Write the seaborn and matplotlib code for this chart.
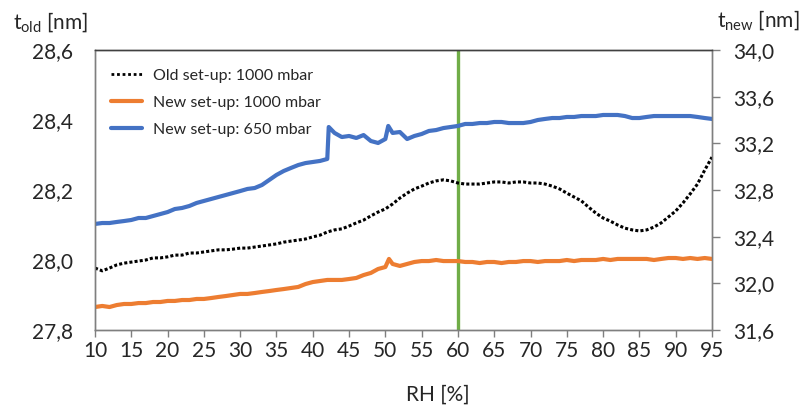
import matplotlib
matplotlib.use("Agg")
import matplotlib.pyplot as plt
import seaborn as sns
import numpy as np
from matplotlib.lines import Line2D

# ---------------- data ----------------
rh_old = list(range(10, 96))
t_old = [27.977, 27.969, 27.977, 27.986, 27.991, 27.994, 27.997, 28.000, 28.006, 28.006,
         28.009, 28.014, 28.014, 28.020, 28.020, 28.023, 28.026, 28.029, 28.029, 28.031,
         28.034, 28.034, 28.037, 28.040, 28.043, 28.046, 28.051, 28.054, 28.057, 28.060,
         28.066, 28.071, 28.080, 28.086, 28.089, 28.097, 28.106, 28.114, 28.126, 28.137,
         28.146, 28.160, 28.177, 28.191, 28.203, 28.211, 28.220, 28.226, 28.229, 28.226,
         28.220, 28.217, 28.217, 28.217, 28.220, 28.223, 28.223, 28.220, 28.223, 28.223,
         28.220, 28.220, 28.217, 28.211, 28.203, 28.191, 28.180, 28.169, 28.151, 28.134,
         28.120, 28.111, 28.100, 28.091, 28.086, 28.083, 28.086, 28.094, 28.106, 28.123,
         28.140, 28.163, 28.189, 28.217, 28.257, 28.294]

rh_1000 = [10, 11, 12, 13, 14, 15, 16, 17, 18, 19, 20, 21, 22, 23, 24, 25, 26, 27, 28, 29,
           30, 31, 32, 33, 34, 35, 36, 37, 38, 39, 40, 41, 42, 43, 44, 45, 46, 47, 48, 49,
           50, 50.5, 51, 52, 53, 54, 55, 56, 57, 58, 59, 60, 61, 62, 63, 64, 65, 66, 67, 68,
           69, 70, 71, 72, 73, 74, 75, 76, 77, 78, 79, 80, 81, 82, 83, 84, 85, 86, 87, 88,
           89, 90, 91, 92, 93, 94, 95]
t_new_1000 = [31.797, 31.806, 31.797, 31.814, 31.823, 31.823, 31.831, 31.831, 31.840, 31.840,
              31.849, 31.849, 31.857, 31.857, 31.866, 31.866, 31.874, 31.883, 31.891, 31.900,
              31.909, 31.909, 31.917, 31.926, 31.934, 31.943, 31.951, 31.960, 31.969, 31.994,
              32.011, 32.020, 32.029, 32.029, 32.029, 32.037, 32.046, 32.071, 32.089, 32.123,
              32.140, 32.209, 32.166, 32.149, 32.166, 32.183, 32.191, 32.191, 32.200, 32.191,
              32.191, 32.191, 32.183, 32.183, 32.174, 32.183, 32.183, 32.174, 32.183, 32.183,
              32.191, 32.191, 32.183, 32.191, 32.191, 32.191, 32.200, 32.191, 32.200, 32.200,
              32.200, 32.209, 32.200, 32.209, 32.209, 32.209, 32.209, 32.209, 32.200, 32.209,
              32.217, 32.217, 32.209, 32.217, 32.209, 32.217, 32.209]

rh_650 = [10, 11, 12, 13, 14, 15, 16, 17, 18, 19, 20, 21, 22, 23, 24, 25, 26, 27, 28, 29,
          30, 31, 32, 33, 34, 35, 36, 37, 38, 39, 40, 41, 42, 42.2, 43, 44, 45, 46, 47, 48,
          49, 50, 50.4, 51, 52, 53, 54, 55, 56, 57, 58, 59, 60, 61, 62, 63, 64, 65, 66, 67,
          68, 69, 70, 71, 72, 73, 74, 75, 76, 77, 78, 79, 80, 81, 82, 83, 84, 85, 86, 87,
          88, 89, 90, 91, 92, 93, 94, 95]
t_new_650 = [32.509, 32.517, 32.517, 32.526, 32.534, 32.543, 32.560, 32.560, 32.577, 32.594,
             32.611, 32.637, 32.646, 32.663, 32.689, 32.706, 32.723, 32.740, 32.757, 32.774,
             32.791, 32.809, 32.817, 32.843, 32.886, 32.929, 32.963, 32.989, 33.014, 33.031,
             33.040, 33.049, 33.066, 33.340, 33.289, 33.254, 33.263, 33.246, 33.271, 33.220,
             33.203, 33.237, 33.349, 33.289, 33.297, 33.237, 33.263, 33.280, 33.306, 33.314,
             33.331, 33.340, 33.349, 33.366, 33.366, 33.374, 33.374, 33.383, 33.383, 33.374,
             33.374, 33.374, 33.383, 33.400, 33.409, 33.417, 33.417, 33.426, 33.426, 33.434,
             33.434, 33.434, 33.443, 33.443, 33.443, 33.434, 33.417, 33.417, 33.426, 33.434,
             33.434, 33.434, 33.434, 33.434, 33.434, 33.426, 33.417, 33.409]

marker_rh = 60

x_ticks = list(range(10, 96, 5))
left_ticks = [27.8, 28.0, 28.2, 28.4, 28.6]
left_labels = ["27,8", "28,0", "28,2", "28,4", "28,6"]
right_ticks = [31.6, 32.0, 32.4, 32.8, 33.2, 33.6, 34.0]
right_labels = ["31,6", "32,0", "32,4", "32,8", "33,2", "33,6", "34,0"]

label_old = "Old set-up: 1000 mbar"
label_1000 = "New set-up: 1000 mbar"
label_650 = "New set-up: 650 mbar"

# ---------------- style ----------------
sns.set_style("white")
plt.rcParams["font.family"] = ["Lato", "DejaVu Sans"]
plt.rcParams["mathtext.default"] = "regular"

c_black = "#000000"
c_orange = "#ED7D31"
c_blue = "#4472C4"
c_green = "#70AD47"
c_axis = "#7F7F7F"

fig = plt.figure(figsize=(8.05, 4.12), dpi=100)
ax = fig.add_axes([95 / 805, 1 - 330 / 412, (712 - 95) / 805, 280 / 412])
ax2 = ax.twinx()

ax.axvline(marker_rh, color=c_green, lw=2.4, zorder=1)
sns.lineplot(x=rh_old, y=t_old, ax=ax, color=c_black, lw=2.2, linestyle=(0, (1, 0.7)),
             zorder=3, legend=False)
sns.lineplot(x=rh_1000, y=t_new_1000, ax=ax2, color=c_orange, lw=3.0, legend=False)
sns.lineplot(x=rh_650, y=t_new_650, ax=ax2, color=c_blue, lw=3.0, legend=False)

ax.set_xlim(10, 95)
ax.set_ylim(27.8, 28.6)
ax2.set_ylim(31.6, 34.0)

ax.set_xticks(x_ticks)
ax.set_xticklabels([str(v) for v in x_ticks])
ax.set_yticks(left_ticks)
ax.set_yticklabels(left_labels)
ax2.set_yticks(right_ticks)
ax2.set_yticklabels(right_labels)

ax.tick_params(axis="x", direction="out", length=5, width=1, color=c_axis,
               labelsize=15, pad=3, bottom=True)
ax.tick_params(axis="y", length=0, labelsize=15, pad=16)
ax2.tick_params(axis="y", direction="out", length=6, width=1, color=c_axis,
                labelsize=15, pad=9, right=True)
ax.set_xlabel("")
ax.set_ylabel("")
ax2.set_ylabel("")

for a in (ax, ax2):
    for s in a.spines.values():
        s.set_visible(True)
        s.set_color(c_axis)
        s.set_linewidth(1.0)
    a.spines["top"].set_color("#404040")
    a.grid(False)

fig.text(13 / 805, 1 - 22 / 412, "t$_{old}$ [nm]", fontsize=15, ha="left", va="center")
fig.text(717 / 805, 1 - 20 / 412, "t$_{new}$ [nm]", fontsize=15, ha="left", va="center")
fig.text(438 / 805, 1 - 395 / 412, "RH [%]", fontsize=15, ha="center", va="center")

handles = [Line2D([], [], color=c_black, lw=2.0, linestyle=(0, (1, 1))),
           Line2D([], [], color=c_orange, lw=3.0),
           Line2D([], [], color=c_blue, lw=3.0)]
ax2.legend(handles, [label_old, label_1000, label_650], loc="upper left",
           bbox_to_anchor=(0.003, 0.985), frameon=False, fontsize=11.5,
           handlelength=1.9, handletextpad=0.7, labelspacing=0.8)

fig.savefig("out.png", dpi=100)
